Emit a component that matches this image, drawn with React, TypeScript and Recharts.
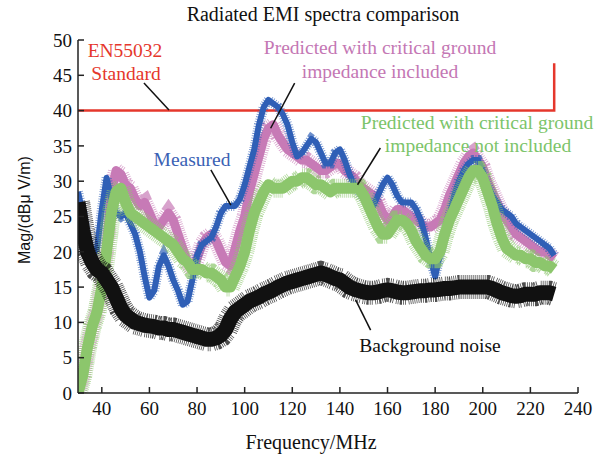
import React from 'react';
import { ComposedChart, Line, XAxis, YAxis, ReferenceLine } from 'recharts';

// Frequency axis samples (MHz)
const freq = [
  30, 32, 34, 36, 38, 40, 42, 44, 46, 48, 50, 52, 54, 56, 58, 60, 62, 64, 66, 68,
  70, 72, 74, 76, 78, 80, 82, 84, 86, 88, 90, 92, 94, 96, 98, 100, 102, 104, 106, 108,
  110, 112, 114, 116, 118, 120, 122, 124, 126, 128, 130, 132, 134, 136, 138, 140, 142, 144, 146, 148,
  150, 152, 154, 156, 158, 160, 162, 164, 166, 168, 170, 172, 174, 176, 178, 180, 182, 184, 186, 188,
  190, 192, 194, 196, 198, 200, 202, 204, 206, 208, 210, 212, 214, 216, 218, 220, 222, 224, 226, 228, 230,
];

// Measured (dBuV/m)
const measured = [
  28.5, 25.5, 22, 19.5, 20.5, 26, 30.5, 27.5, 25.5, 25, 25.5, 24, 22.5, 20, 16.5, 13.5, 14.5, 18, 19.5, 18,
  16, 14.5, 12.5, 13, 16, 19.5, 21, 21.5, 22, 23.5, 25.5, 26.5, 26.5, 26.5, 27.5, 29.5, 32, 34.5, 38, 40.5,
  41.5, 41, 40.5, 39.5, 38, 35.5, 33.5, 34, 35, 36, 35.5, 34, 32.5, 32.5, 34, 34.5, 33, 31, 29.5, 28.5,
  27.5, 27, 26.5, 28, 29.5, 30.5, 29.5, 28, 27, 27, 27, 26, 24.5, 22, 19, 16.5, 19.5, 22.5, 25, 28,
  30, 31.5, 32.5, 33, 33, 31.5, 29.5, 28, 27, 26, 25.5, 25, 24, 23.5, 23, 22.5, 22, 21.5, 21, 20.5, 19.5,
];

// Predicted with critical ground impedance included
const predictedIncluded = [
  0, 2.5, 6.5, 9.5, 11.5, 15, 21, 28.5, 31.5, 31, 29.5, 29, 27.5, 26.5, 27, 25.5, 24, 23.5, 24.5, 25.5,
  24.5, 22.5, 20.5, 18.5, 17.5, 19, 21, 22, 22.5, 21.5, 20, 18.5, 18, 20.5, 23, 25, 28.5, 31, 33.5, 36,
  37.5, 38, 36.5, 35.5, 34.5, 34, 33.5, 33, 33, 32.5, 32, 31.5, 31.5, 32, 32.5, 32.5, 31.5, 31, 30.5, 29.5,
  29, 28.5, 28, 27, 25.5, 24.5, 25, 26, 26, 25.5, 25, 24.5, 24, 23.5, 23.5, 24, 24.5, 26, 28, 29.5,
  31, 32.5, 33.5, 34, 33, 32, 30, 28.5, 27, 25.5, 24.5, 23.5, 22.5, 22, 21.5, 21, 20.5, 20, 20, 19.5, 19,
];

// Predicted with critical ground impedance not included
const predictedNotIncluded = [
  0, 2.5, 6.5, 9.5, 11.5, 15, 20, 25.5, 28.5, 29, 27, 25.5, 25, 24.5, 24, 23.5, 23, 22.5, 22, 21.5,
  21, 20, 19, 18.5, 17.5, 17.5, 17.5, 17, 17, 16.5, 16, 15, 15, 16.5, 18, 20, 23, 25.5, 27, 28.5,
  29.5, 29, 29, 29, 29.5, 30, 30, 30.5, 30.5, 30, 29.5, 29.5, 29, 28.5, 29, 29, 29, 29, 29, 29,
  28, 26.5, 25, 23.5, 22.5, 22.5, 23.5, 24.5, 24.5, 24, 23, 21.5, 20.5, 19.5, 19, 19, 20, 22.5, 24.5, 26,
  27.5, 29, 30.5, 31.5, 31.5, 30.5, 28.5, 26.5, 24, 22, 20.5, 20, 19.5, 19.5, 19, 19, 18.5, 18.5, 18, 18, 17.5,
];

// Background noise
const background = [
  27, 23, 20, 18.5, 17.5, 17, 16, 15, 13.5, 12, 11, 10.5, 10, 9.8, 9.6, 9.5, 9.4, 9.2, 9.2, 9,
  9, 8.8, 8.6, 8.4, 8.2, 8, 7.8, 7.6, 7.6, 7.8, 8.2, 9, 10.5, 11.5, 12, 12.5, 13, 13.3, 13.6, 14,
  14.3, 14.6, 15, 15.3, 15.6, 15.8, 16, 16.2, 16.4, 16.6, 16.8, 17, 16.8, 16.5, 16.2, 16, 15.5, 15, 14.7, 14.5,
  14.3, 14.2, 14.2, 14.3, 14.5, 14.6, 14.5, 14.3, 14.2, 14.2, 14.3, 14.4, 14.5, 14.5, 14.6, 14.6, 14.7, 14.8, 14.8, 14.9,
  15, 15, 15, 15, 15, 15, 15, 14.8, 14.5, 14.2, 14, 13.8, 13.7, 13.8, 14, 14, 14, 14.2, 14.2, 14.2, 14,
];

// EN55032 limit line
const limitFreq = [30, 230, 230];
const limitLevel = [40, 40, 46.7];

const xTicks = [40, 60, 80, 100, 120, 140, 160, 180, 200, 220, 240];
const yTicks = [0, 5, 10, 15, 20, 25, 30, 35, 40, 45, 50];

const data = freq.map((f, i) => ({
  f,
  measured: measured[i],
  inc: predictedIncluded[i],
  notInc: predictedNotIncluded[i],
  bg: background[i],
}));
const limitData = limitFreq.map((f, i) => ({ f, limit: limitLevel[i] }));

// annotation pointer segments in data coordinates
const pointers = [
  [{ x: 57.7, y: 43.9 }, { x: 68.2, y: 40.1 }],
  [{ x: 121, y: 43.9 }, { x: 110.9, y: 37.5 }],
  [{ x: 85.8, y: 31.6 }, { x: 94.2, y: 26.6 }],
  [{ x: 157, y: 34.7 }, { x: 147.4, y: 29.5 }],
  [{ x: 152.9, y: 8.9 }, { x: 146.6, y: 13.2 }],
];

const SERIF = '"Liberation Serif", "Times New Roman", serif';
const SANS = '"Liberation Sans", Arial, sans-serif';

const BLUE = '#2f5fb6';
const PINK = '#c77ab6';
const GREEN = '#8cc66c';
const BLACK = '#111111';
const RED = '#e5372c';

// noisy-band rendering: a hatched halo under a solid core
const band = (key: string, color: string, core: number, halo: number, dash: string, op: number) => [
  <Line key={key + 'h'} dataKey={key} stroke={color} strokeWidth={halo} strokeDasharray={dash} strokeLinecap="butt" strokeOpacity={op} dot={false} activeDot={false} isAnimationActive={false} />,
  <Line key={key + 'c'} dataKey={key} stroke={color} strokeWidth={core} dot={false} activeDot={false} isAnimationActive={false} strokeLinejoin="round" />,
];

export default function App() {
  return (
    <div style={{ position: 'absolute', left: 0, top: 0, width: 610, height: 454, background: '#fff' }}>
      <ComposedChart
        width={610}
        height={454}
        data={data}
        margin={{ top: 40, right: 32, bottom: 31, left: 38 }}
      >
        <XAxis
          dataKey="f"
          type="number"
          domain={[30, 240]}
          ticks={xTicks}
          interval={0}
          height={30}
          tickSize={-6}
          tickMargin={14.5}
          axisLine={{ stroke: '#222', strokeWidth: 1.5 }}
          tickLine={{ stroke: '#222', strokeWidth: 1.5 }}
          tick={{ fill: '#111', fontSize: 19, fontFamily: SERIF }}
          allowDataOverflow
        />
        <YAxis
          type="number"
          domain={[0, 50]}
          ticks={yTicks}
          interval={0}
          width={40}
          tickSize={-6}
          tickMargin={12}
          axisLine={{ stroke: '#222', strokeWidth: 1.5 }}
          tickLine={{ stroke: '#222', strokeWidth: 1.5 }}
          tick={{ fill: '#111', fontSize: 19, fontFamily: SERIF }}
          allowDataOverflow
        />
        <Line data={limitData} dataKey="limit" stroke={RED} strokeWidth={2.5} dot={false} isAnimationActive={false} strokeLinejoin="miter" />
        {band('inc', PINK, 9, 16, '0.8 1.4', 0.7)}
        {band('measured', BLUE, 6, 10, '0.8 1.6', 0.7)}
        {band('notInc', GREEN, 11, 19, '0.8 1.2', 0.7)}
        {band('bg', BLACK, 15, 24, '0.8 1.2', 0.75)}
        {pointers.map((seg, i) => (
          <ReferenceLine key={i} segment={seg} stroke="#111" strokeWidth={1.5} />
        ))}
      </ComposedChart>
      <svg width={610} height={454} style={{ position: 'absolute', left: 0, top: 0, pointerEvents: 'none' }}>
        <text x={323} y={21} textAnchor="middle" fontFamily={SERIF} fontSize={20} fill="#111">Radiated EMI spectra comparison</text>
        <text x={311} y={449} textAnchor="middle" fontFamily={SERIF} fontSize={20} fill="#111">Frequency/MHz</text>
        <text x={0} y={0} transform="translate(30,210) rotate(-90)" textAnchor="middle" fontFamily={SANS} fontSize={16} fill="#111">Mag/(dBμ V/m)</text>
        <g fontFamily={SERIF} fontSize={19.5} textAnchor="middle">
          <text x={125} y={57} fill={RED}>EN55032</text>
          <text x={126} y={80} fill={RED}>Standard</text>
          <text x={380} y={53.5} fill="#c477b4">Predicted with critical ground</text>
          <text x={380} y={77.5} fill="#c477b4">impedance included</text>
          <text x={477} y={128.5} fill="#7cc46a">Predicted with critical ground</text>
          <text x={478} y={152} fill="#7cc46a">impedance not included</text>
          <text x={192} y={165.5} fill="#3a62b4">Measured</text>
          <text x={430} y={352} fill="#111">Background noise</text>
        </g>
      </svg>
    </div>
  );
}
